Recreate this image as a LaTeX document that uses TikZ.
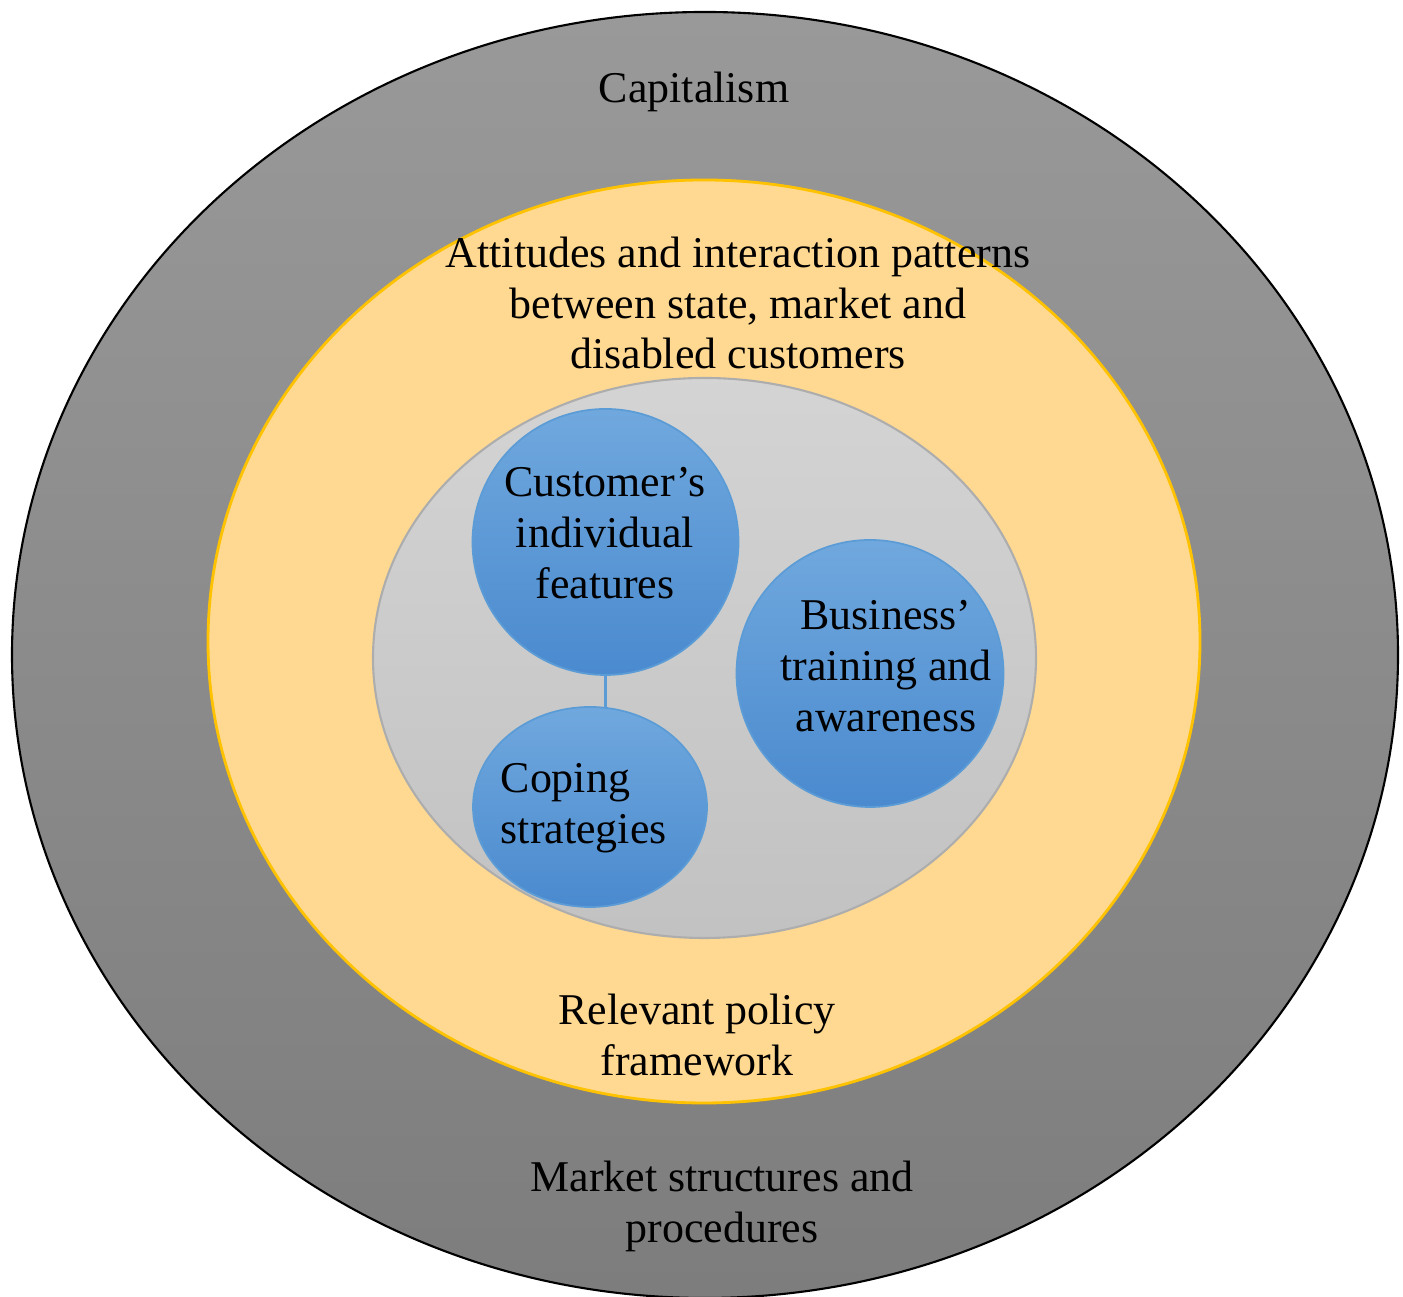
\documentclass[tikz,border=0pt]{standalone}
\usepackage{fontspec}
\setmainfont{Liberation Serif}
\usepackage{tikz}
\usetikzlibrary{shapes.geometric}
\definecolor{outtop}{rgb}{0.6,0.6,0.6}
\definecolor{outbot}{rgb}{0.49,0.49,0.49}
\definecolor{yellowfill}{rgb}{1.,0.85,0.57}
\definecolor{yellowline}{rgb}{1.,0.76,0.}
\definecolor{greyfill}{rgb}{0.8,0.8,0.8}
\definecolor{greyline}{rgb}{0.68,0.68,0.68}
\definecolor{bluetop}{rgb}{0.44,0.66,0.87}
\definecolor{bluebot}{rgb}{0.29,0.54,0.81}
\definecolor{blueline}{rgb}{0.36,0.61,0.84}
\tikzstyle{every node}=[font=\fontsize{12.5}{14.5}\selectfont]
\tikzstyle{ring}=[ellipse,inner sep=0pt]
\tikzstyle{bubble}=[ellipse,inner sep=0pt,draw=blueline,line width=0.5pt,top color=bluetop,bottom color=bluebot]

\begin{document}
\begin{tikzpicture}[line cap=round,line join=round,x=1.0cm,y=1.0cm]
            \useasboundingbox (0,0) rectangle (14.03,12.97);
            \node[ring,draw=black,line width=0.6pt,top color=outtop,bottom color=outbot,minimum width=13.86cm,minimum height=12.86cm] (capital) at (7.05,6.42) {};
            \node[ring,draw=yellowline,line width=0.8pt,fill=yellowfill,minimum width=9.92cm,minimum height=9.23cm] (policy) at (7.04,6.555) {};
            \node[ring,draw=greyline,line width=0.6pt,top color=greyfill!85!white,bottom color=greyfill!95!black,minimum width=6.63cm,minimum height=5.60cm] (inner) at (7.045,6.39) {};
            \node[bubble,minimum width=2.66cm,minimum height=2.66cm] (customer) at (6.055,7.55) {};
            \node[bubble,minimum width=2.67cm,minimum height=2.67cm] (business) at (8.70,6.235) {};
            \draw[color=blueline,line width=0.9pt] (customer.south) -- (customer.south |- 0,5.89);
            \node[bubble,minimum width=2.34cm,minimum height=2.00cm] (coping) at (5.90,4.90) {};
            % labels
            \node[align=center] (capitaltext) at (6.94,12.05) {Capitalism};
            \node[align=center] (attitudetext) at (7.38,9.94) {Attitudes and interaction patterns\\between state, market and\\disabled customers};
            \node[align=center] (customertext) at (6.05,7.64) {Customer’s\\individual\\features};
            \node[align=center] (businesstext) at (8.86,6.31) {Business’\\training and\\awareness};
            \node[align=left,anchor=west,inner sep=0pt] (copingtext) at (5.00,4.89) {Coping\\strategies};
            \node[align=center] (policytext) at (6.97,2.62) {Relevant policy\\framework};
            \node[align=center] (markettext) at (7.22,0.91) {Market structures and\\procedures};
        \end{tikzpicture}
\end{document}
